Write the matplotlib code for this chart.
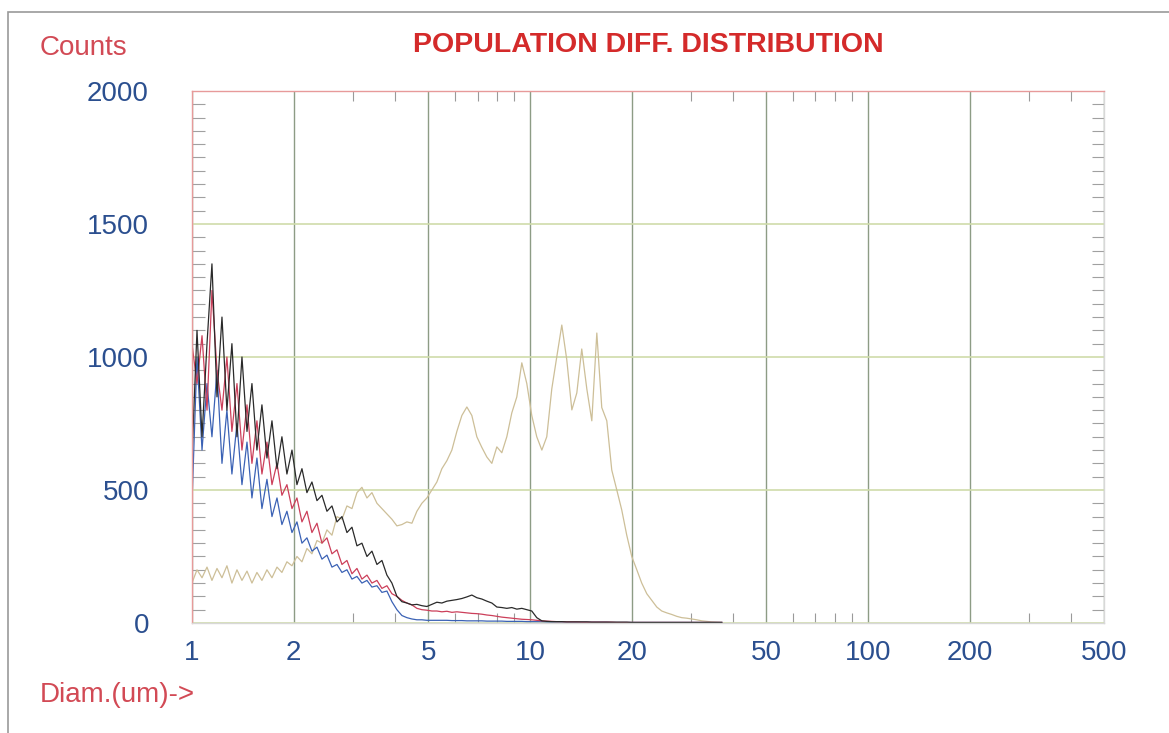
import numpy as np
import matplotlib.pyplot as plt
from matplotlib.ticker import FixedLocator, MultipleLocator, NullFormatter
from matplotlib.patches import Rectangle

plt.rcParams['font.family'] = ['Liberation Sans', 'DejaVu Sans']

# channel diameters (um), shared by all four runs
diam = [1.000, 1.035, 1.071, 1.108, 1.146, 1.186, 1.227, 1.269, 1.313, 1.359,
        1.406, 1.455, 1.505, 1.557, 1.611, 1.667, 1.725, 1.785, 1.846, 1.910,
        1.977, 2.045, 2.116, 2.189, 2.265, 2.344, 2.425, 2.509, 2.596, 2.686,
        2.779, 2.875, 2.975, 3.078, 3.184, 3.295, 3.409, 3.527, 3.649, 3.775,
        3.906, 4.041, 4.181, 4.326, 4.476, 4.631, 4.791, 4.957, 5.129, 5.306,
        5.490, 5.680, 5.877, 6.080, 6.291, 6.509, 6.734, 6.967, 7.209, 7.458,
        7.717, 7.984, 8.260, 8.546, 8.842, 9.149, 9.465, 9.793, 10.13, 10.48,
        10.85, 11.22, 11.61, 12.01, 12.43, 12.86, 13.31, 13.77, 14.24, 14.74,
        15.25, 15.78, 16.32, 16.89, 17.47, 18.08, 18.70, 19.35, 20.02, 20.72,
        21.43, 22.18, 22.95, 23.74, 24.56, 25.41, 26.29, 27.20, 28.15, 29.12,
        30.13, 31.17, 32.25, 33.37, 34.53, 35.72, 36.96]

black = [620, 1100, 700, 1050, 1350, 850, 1150, 800, 1050, 700,
         1000, 720, 900, 650, 820, 620, 760, 580, 700, 560,
         650, 520, 580, 490, 530, 460, 480, 420, 440, 380,
         400, 340, 360, 290, 300, 250, 270, 220, 235, 180,
         150, 100, 80, 75, 68, 70, 65, 62, 70, 78,
         75, 82, 85, 88, 92, 98, 105, 95, 90, 82,
         75, 60, 58, 55, 58, 52, 55, 50, 45, 20,
         8, 6, 5, 5, 5, 4, 4, 4, 4, 4,
         3, 3, 3, 3, 3, 3, 3, 3, 2, 2,
         2, 2, 2, 2, 2, 2, 2, 2, 2, 2,
         2, 2, 2, 2, 2, 2, 2]

red = [1050, 900, 1080, 800, 1250, 950, 800, 1000, 720, 900,
       650, 820, 600, 760, 560, 680, 520, 600, 480, 520,
       430, 470, 380, 420, 340, 375, 300, 320, 260, 275,
       220, 235, 185, 205, 165, 180, 150, 160, 130, 140,
       110, 100, 85, 75, 68, 55, 50, 48, 45, 45,
       42, 44, 40, 42, 40, 38, 36, 35, 33, 30,
       28, 25, 22, 20, 18, 16, 14, 13, 12, 10,
       8, 7, 6, 5, 5, 4, 4, 4, 3, 3,
       3, 3, 3, 3, 3, 2, 2, 2, 2, 2,
       2, 2, 2, 2, 2, 2, 2, 2, 2, 2,
       2, 2, 2, 2, 2, 2, 2]

blue = [450, 1000, 650, 900, 700, 950, 600, 800, 560, 750,
        520, 680, 470, 620, 430, 540, 400, 470, 370, 420,
        340, 380, 300, 320, 270, 285, 240, 255, 210, 220,
        190, 200, 165, 175, 150, 160, 135, 140, 115, 120,
        80, 50, 28, 20, 15, 12, 12, 10, 10, 10,
        10, 10, 9, 9, 9, 8, 8, 8, 8, 7,
        7, 7, 7, 6, 6, 6, 6, 5, 5, 5,
        5, 4, 4, 4, 4, 3, 3, 3, 3, 3,
        3, 3, 3, 3, 2, 2, 2, 2, 2, 2,
        2, 2, 2, 2, 2, 2, 2, 2, 2, 2,
        2, 2, 2, 2, 2, 2, 2]

tan = [150, 200, 170, 210, 160, 205, 170, 215, 150, 200,
       160, 195, 150, 190, 160, 200, 170, 210, 190, 230,
       215, 250, 230, 280, 260, 310, 300, 350, 330, 400,
       390, 440, 430, 490, 510, 470, 490, 450, 430, 410,
       390, 365, 370, 380, 375, 420, 450, 470, 500, 530,
       580, 610, 650, 720, 780, 812, 780, 700, 660, 624,
       600, 662, 640, 700, 790, 850, 978, 900, 780, 700,
       650, 700, 880, 1000, 1120, 989, 801, 865, 1030, 880,
       760, 1090, 810, 760, 575, 500, 425, 330, 250, 200,
       150, 110, 85, 60, 45, 38, 32, 25, 20, 18,
       15, 12, 8, 6, 4, 3, 2]

x_major = [1, 2, 5, 10, 20, 50, 100, 200, 500]
x_minor = [3, 4, 6, 7, 8, 9, 30, 40, 60, 70, 80, 90, 300, 400]

fig = plt.figure(figsize=(11.69, 7.33), dpi=100)
fig.patches.append(Rectangle((8 / 1169, -0.05), 1.2, 1.05 - 12 / 733,
                             transform=fig.transFigure, fill=False,
                             edgecolor='#9a9a9a', linewidth=1.2))

ax = fig.add_axes([0.1642, 0.1501, 0.7802, 0.7258])
ax.set_xscale('log')

ax.plot(diam, tan, color='#cdbf98', lw=0.9)
ax.plot(diam, blue, color='#3b62b5', lw=0.9)
ax.plot(diam, red, color='#cc3f5a', lw=0.9)
ax.plot(diam, black, color='#2a2a2a', lw=0.9)

ax.set_xlim(1, 500)
ax.set_ylim(0, 2000)

ax.xaxis.set_major_locator(FixedLocator(x_major))
ax.xaxis.set_minor_locator(FixedLocator(x_minor))
ax.xaxis.set_minor_formatter(NullFormatter())
ax.set_xticklabels([str(v) for v in x_major])
ax.yaxis.set_major_locator(MultipleLocator(500))
ax.yaxis.set_minor_locator(MultipleLocator(50))

ax.grid(True, axis='x', which='major', color='#8d9c85', lw=1.0)
ax.grid(True, axis='y', which='major', color='#cfdcaa', lw=1.2)

ax.tick_params(axis='x', which='major', length=0, pad=12, labelsize=20, labelcolor='#2b4f8f')
ax.tick_params(axis='x', which='minor', direction='in', length=7, top=True, bottom=True,
               color='#9a9a9a', width=0.8)
ax.tick_params(axis='y', which='major', length=0, pad=31, labelsize=20, labelcolor='#2b4f8f')
ax.tick_params(axis='y', which='minor', direction='in', length=9, left=True, right=True,
               color='#a0a0a0', width=0.8)

for side in ['top', 'left']:
    ax.spines[side].set_color('#e79a9a')
for side in ['bottom', 'right']:
    ax.spines[side].set_color('#d8d8d8')
for s in ax.spines.values():
    s.set_linewidth(1.0)

fig.text(40 / 1169, 1 - 48 / 733, 'Counts', color='#d24a55', fontsize=20, va='center', ha='left')
fig.text(648 / 1169, 1 - 45 / 733, 'POPULATION DIFF. DISTRIBUTION', color='#d42a2a',
         fontsize=20.5, fontweight='bold', va='center', ha='center')
fig.text(40 / 1169, 1 - 695 / 733, 'Diam.(um)->', color='#d24a55', fontsize=20, va='center', ha='left')

fig.savefig('out.png', dpi=100)
